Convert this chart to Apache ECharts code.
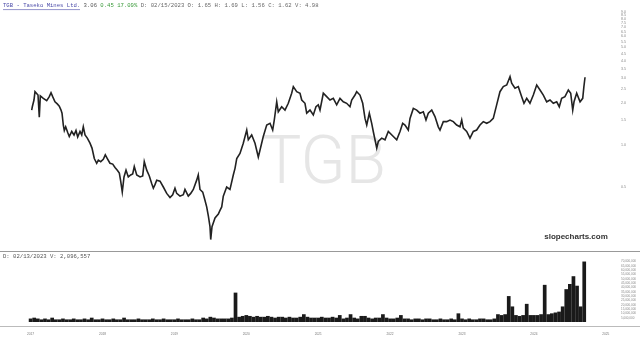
<!DOCTYPE html>
<html><head><meta charset="utf-8">
<script src="https://cdn.jsdelivr.net/npm/echarts@6/dist/echarts.min.js"></script>
<style>html,body{margin:0;padding:0;background:#fff}#c{width:640px;height:340px}</style>
</head><body><div id="c"></div>
<script>
// ---- data ----
const priceTimes = [
2017.015,2017.024,2017.047,2017.061,2017.085,2017.103,2017.121,2017.135,2017.154,2017.177,
2017.200,2017.224,2017.260,2017.284,2017.307,2017.339,2017.371,2017.399,2017.423,2017.437,
2017.455,2017.469,2017.488,2017.516,2017.538,2017.572,2017.604,2017.631,2017.655,2017.687,
2017.711,2017.733,2017.757,2017.789,2017.826,2017.854,2017.886,2017.919,2017.942,2017.975,
2018.011,2018.039,2018.067,2018.104,2018.142,2018.174,2018.206,2018.234,2018.253,2018.275,
2018.299,2018.327,2018.359,2018.392,2018.420,2018.442,2018.476,2018.522,2018.559,2018.581,
2018.615,2018.651,2018.684,2018.707,2018.730,2018.754,2018.800,2018.846,2018.893,2018.939,
2018.976,2019.008,2019.032,2019.078,2019.124,2019.147,2019.193,2019.227,2019.263,2019.310,
2019.332,2019.356,2019.394,2019.426,2019.449,2019.472,2019.495,2019.505,2019.523,2019.565,
2019.611,2019.634,2019.658,2019.680,2019.727,2019.773,2019.819,2019.843,2019.867,2019.912,
2019.958,2020.006,2020.028,2020.075,2020.121,2020.167,2020.191,2020.236,2020.284,2020.330,
2020.367,2020.389,2020.423,2020.445,2020.492,2020.538,2020.584,2020.631,2020.654,2020.701,
2020.747,2020.771,2020.816,2020.840,2020.886,2020.932,2020.969,2021.001,2021.025,2021.071,
2021.118,2021.164,2021.210,2021.257,2021.303,2021.349,2021.396,2021.442,2021.466,2021.512,
2021.535,2021.581,2021.619,2021.651,2021.675,2021.711,2021.744,2021.766,2021.790,2021.814,
2021.836,2021.883,2021.929,2021.975,2021.999,2022.045,2022.092,2022.138,2022.175,2022.207,
2022.253,2022.277,2022.323,2022.370,2022.416,2022.462,2022.499,2022.531,2022.579,2022.624,
2022.670,2022.694,2022.740,2022.787,2022.833,2022.879,2022.926,2022.972,2022.996,2023.018,
2023.065,2023.111,2023.157,2023.204,2023.250,2023.296,2023.343,2023.389,2023.435,2023.482,
2023.528,2023.574,2023.622,2023.668,2023.691,2023.737,2023.783,2023.830,2023.862,2023.900,
2023.945,2023.992,2024.039,2024.085,2024.131,2024.178,2024.224,2024.270,2024.317,2024.353,
2024.386,2024.432,2024.479,2024.512,2024.540,2024.558,2024.595,2024.642,2024.679,2024.695,2024.711
];
const prices = [
1.78,1.88,2.10,2.41,2.35,2.28,1.58,2.25,2.22,2.16,
2.20,2.08,2.22,2.37,2.22,2.04,1.97,1.90,1.78,1.69,
1.39,1.27,1.35,1.23,1.15,1.25,1.18,1.27,1.14,1.25,
1.18,1.35,1.18,1.12,1.03,0.95,0.80,0.74,0.78,0.76,
0.79,0.85,0.80,0.74,0.73,0.69,0.66,0.63,0.55,0.46,
0.59,0.66,0.59,0.61,0.62,0.70,0.61,0.59,0.60,0.76,
0.66,0.60,0.53,0.49,0.52,0.56,0.55,0.50,0.45,0.42,
0.44,0.49,0.45,0.43,0.44,0.48,0.43,0.45,0.48,0.56,
0.61,0.48,0.46,0.40,0.36,0.31,0.26,0.21,0.26,0.30,
0.32,0.34,0.36,0.43,0.50,0.48,0.61,0.68,0.80,0.87,
1.03,1.28,1.09,1.18,1.03,0.82,0.92,1.15,1.39,1.43,
1.28,1.51,2.04,1.73,1.88,1.78,1.99,2.35,2.62,2.41,
2.35,2.10,1.99,1.69,1.78,1.64,1.88,1.94,1.78,2.35,
2.22,2.10,2.16,1.94,2.16,2.04,1.99,1.88,2.10,2.28,
2.41,2.28,1.99,1.55,1.39,1.69,1.43,1.25,1.09,0.95,
1.06,1.12,1.09,1.25,1.28,1.15,1.09,1.25,1.43,1.39,
1.28,1.55,1.83,1.78,1.69,1.73,1.51,1.69,1.78,1.60,
1.35,1.28,1.47,1.47,1.51,1.47,1.39,1.35,1.51,1.32,
1.25,1.12,1.25,1.28,1.39,1.47,1.43,1.47,1.55,1.94,
2.41,2.62,2.69,3.09,2.77,2.55,2.62,2.22,1.99,2.16,
1.99,2.28,2.69,2.48,2.28,2.04,2.10,1.99,2.04,1.88,
2.16,2.22,2.48,2.35,1.78,2.04,2.35,2.04,2.16,2.61,3.06
];
const volTimes = [
2017.00,2017.05,2017.10,2017.15,2017.20,2017.25,2017.30,2017.35,2017.40,2017.45,2017.50,2017.55,2017.60,2017.65,2017.70,2017.75,2017.80,2017.85,2017.90,2017.95,
2018.00,2018.05,2018.10,2018.15,2018.20,2018.25,2018.30,2018.35,2018.40,2018.45,2018.50,2018.55,2018.60,2018.65,2018.70,2018.75,2018.80,2018.85,2018.90,2018.95,
2019.00,2019.05,2019.10,2019.15,2019.20,2019.25,2019.30,2019.35,2019.40,2019.45,2019.50,2019.55,2019.60,2019.65,2019.70,2019.75,2019.80,2019.85,2019.90,2019.95,
2020.00,2020.05,2020.10,2020.15,2020.20,2020.25,2020.30,2020.35,2020.40,2020.45,2020.50,2020.55,2020.60,2020.65,2020.70,2020.75,2020.80,2020.85,2020.90,2020.95,
2021.00,2021.05,2021.10,2021.15,2021.20,2021.25,2021.30,2021.35,2021.40,2021.45,2021.50,2021.55,2021.60,2021.65,2021.70,2021.75,2021.80,2021.85,2021.90,2021.95,
2022.00,2022.05,2022.10,2022.15,2022.20,2022.25,2022.30,2022.35,2022.40,2022.45,2022.50,2022.55,2022.60,2022.65,2022.70,2022.75,2022.80,2022.85,2022.90,2022.95,
2023.00,2023.05,2023.10,2023.15,2023.20,2023.25,2023.30,2023.35,2023.40,2023.45,2023.50,2023.55,2023.60,2023.65,2023.70,2023.75,2023.80,2023.85,2023.90,2023.95,
2024.00,2024.05,2024.10,2024.15,2024.20,2024.25,2024.30,2024.35,2024.40,2024.45,2024.50,2024.55,2024.60,2024.65,2024.70
];
// volume in millions of shares
const volumesM = [
4,5,4,3,4,3,5,3,3,4,3,3,4,3,3,4,3,5,3,3,
4,3,3,4,3,3,5,3,3,3,4,3,3,3,4,3,3,4,3,3,
3,4,3,3,3,4,3,3,5,4,6,5,4,4,4,4,5,34,6,7,
8,7,6,7,6,6,7,6,5,6,6,5,6,5,5,6,9,6,5,5,
5,6,5,5,6,5,8,4,5,9,5,4,7,7,5,4,5,5,9,5,
4,4,5,8,4,4,3,4,4,3,4,4,3,3,4,3,3,4,3,10,
4,3,4,3,3,4,4,3,3,4,9,8,9,30,18,8,7,8,21,8,
8,8,9,43,9,10,11,12,18,38,44,53,42,18,70
];
const priceTicks = [0.5,1.0,1.5,2.0,2.5,3.0,3.5,4.0,4.5,5.0,5.5,6.0,6.5,7.0,7.5,8.0,8.5,9.0,9.5];
const volTicksM = [5,10,15,20,25,30,35,40,45,50,55,60,65,70];
const yearTicks = [2017,2018,2019,2020,2021,2022,2023,2024,2025];

// ---- chart ----
const X_MIN = 2016.5744, X_MAX = 2025.0584;
const chart = echarts.init(document.getElementById('c'), null, {renderer:'canvas'});
const mono = '"Liberation Mono", "DejaVu Sans Mono", monospace';
const fmtInt = v => Math.round(v).toString().replace(/\B(?=(\d{3})+(?!\d))/g, ',');

chart.setOption({
  animation: false,
  backgroundColor: '#fff',
  grid: [
    {left: 0, right: 30, top: 5, height: 245, containLabel: false},
    {left: 0, right: 30, top: 256, height: 66, containLabel: false}
  ],
  xAxis: [
    {type:'value', gridIndex:0, min:X_MIN, max:X_MAX, show:false},
    {type:'value', gridIndex:1, min:X_MIN, max:X_MAX,
     axisLine:{show:false}, axisTick:{show:false}, splitLine:{show:false},
     axisLabel:{customValues: yearTicks, formatter: v => String(Math.round(v)),
       fontSize:3.2, color:'#777', margin:11, fontFamily:'"Liberation Sans", Arial'}}
  ],
  yAxis: [
    {type:'log', gridIndex:0, position:'right', min:0.1768, max:10.077, logBase:10,
     axisLine:{show:false}, axisTick:{show:false}, splitLine:{show:false},
     axisLabel:{customValues: priceTicks, formatter: v => Number(v).toFixed(1),
       fontSize:3.6, color:'#888', margin:11, align:'left', fontFamily:'"Liberation Sans", Arial'}},
    {type:'value', gridIndex:1, position:'right', min:0, max:76.4e6,
     axisLine:{show:false}, axisTick:{show:false}, splitLine:{show:false},
     axisLabel:{customValues: volTicksM.map(v => v*1e6), formatter: v => fmtInt(v),
       fontSize:3, color:'#888', margin:11, align:'left', fontFamily:'"Liberation Sans", Arial'}}
  ],
  graphic: [
    {type:'text', x:324, y:166, z:-10, silent:true,
     style:{text:'TGB', fill:'#e6e6e6', font:'300 66px Roboto, "Liberation Sans", Arial', align:'center', verticalAlign:'middle'}},
    {type:'text', x:3, y:6, z:10,
     style:{text:'{a|TGB - Taseko Mines Ltd.} {b|3.06} {c|0.45 17.09%} {d|D: 02/15/2023 O: 1.65 H: 1.69 L: 1.56 C: 1.62 V: 4.98}',
       verticalAlign:'middle', font:'5.6px ' + mono,
       rich:{a:{fill:'#4a4aa8', fontSize:5.6, fontFamily:mono},
             b:{fill:'#555', fontSize:5.6, fontFamily:mono},
             c:{fill:'#3a9a3a', fontSize:5.6, fontFamily:mono},
             d:{fill:'#666', fontSize:5.6, fontFamily:mono}}}},
    {type:'line', z:10, shape:{x1:3, y1:9.6, x2:80, y2:9.6}, style:{stroke:'#4a4aa8', lineWidth:0.6}},
    {type:'text', x:576, y:237, z:10,
     style:{text:'slopecharts.com', fill:'#333', font:'bold 8px "Liberation Sans", Arial', align:'center', verticalAlign:'middle'}},
    {type:'line', z:10, shape:{x1:0, y1:251.5, x2:640, y2:251.5}, style:{stroke:'#999', lineWidth:1}},
    {type:'text', x:3, y:256.5, z:10,
     style:{text:'D: 02/13/2023 V: 2,096,557', fill:'#555', font:'5.6px ' + mono, verticalAlign:'middle'}},
    {type:'line', z:10, shape:{x1:0, y1:326.5, x2:640, y2:326.5}, style:{stroke:'#bbb', lineWidth:1}}
  ],
  series: [
    {type:'line', xAxisIndex:0, yAxisIndex:0, showSymbol:false, symbol:'none',
     data: priceTimes.map((t,i) => [t, prices[i]]),
     lineStyle:{color:'#222', width:1.6, join:'miter'}},
    {type:'bar', xAxisIndex:1, yAxisIndex:1, barWidth:3.7,
     data: volTimes.map((t,i) => [t, volumesM[i]*1e6]),
     itemStyle:{color:'#1a1a1a'}}
  ]
});
</script>
</body></html>
